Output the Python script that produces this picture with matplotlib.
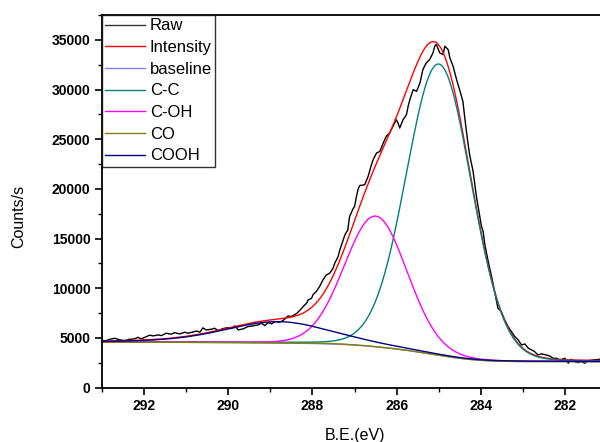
import numpy as np
import matplotlib
matplotlib.use("Agg")
import matplotlib.pyplot as plt
from matplotlib.ticker import MultipleLocator

plt.rcParams['font.family'] = ['Liberation Sans', 'DejaVu Sans']

# ---------------- data ----------------
raw_be = [293.01, 292.89, 292.81, 292.69, 292.57, 292.45, 292.34, 292.22, 292.14, 292.06,
          291.94, 291.86, 291.78, 291.66, 291.58, 291.47, 291.35, 291.27, 291.15, 291.03,
          290.95, 290.83, 290.75, 290.67, 290.60, 290.52, 290.40, 290.32, 290.24, 290.12,
          290.00, 289.92, 289.84, 289.76, 289.65, 289.53, 289.41, 289.29, 289.21, 289.13,
          289.05, 288.97, 288.89, 288.78, 288.70, 288.58, 288.50, 288.38, 288.30, 288.22,
          288.14, 288.10, 288.02, 287.99, 287.91, 287.83, 287.75, 287.67, 287.59, 287.51,
          287.47, 287.39, 287.35, 287.27, 287.23, 287.16, 287.12, 287.04, 287.00, 286.96,
          286.92, 286.88, 286.76, 286.68, 286.60, 286.56, 286.48, 286.40, 286.32, 286.25,
          286.17, 286.09, 286.01, 285.97, 285.93, 285.85, 285.77, 285.73, 285.69, 285.61,
          285.53, 285.45, 285.38, 285.30, 285.22, 285.14, 285.10, 285.06, 284.98, 284.90,
          284.86, 284.78, 284.74, 284.66, 284.58, 284.51, 284.43, 284.39, 284.35, 284.31,
          284.27, 284.19, 284.15, 284.11, 284.07, 284.03, 283.99, 283.95, 283.91, 283.87,
          283.83, 283.75, 283.67, 283.60, 283.52, 283.44, 283.36, 283.28, 283.20, 283.12,
          283.04, 282.96, 282.88, 282.80, 282.73, 282.65, 282.57, 282.45, 282.37, 282.29,
          282.21, 282.13, 282.01, 281.93, 281.86, 281.78, 281.70, 281.62, 281.54, 281.46,
          281.34, 281.18]
raw_counts = [4740, 4740, 4870, 4970, 4810, 4740, 4870, 4910, 5070, 4910,
              5140, 5280, 5210, 5310, 5240, 5480, 5380, 5540, 5410, 5580,
              5480, 5610, 5710, 5580, 6020, 5810, 5880, 5980, 5750, 5950,
              6050, 5950, 6220, 5810, 5910, 6150, 6220, 6320, 6490, 6250,
              6550, 6420, 6650, 6590, 6750, 7220, 7160, 7450, 7780, 8160,
              8500, 8840, 9000, 9340, 9680, 10180, 10850, 11350, 11520, 12030,
              12530, 13200, 13870, 14880, 15380, 15890, 17200, 17980, 18240, 19160,
              19920, 20340, 20420, 21260, 22440, 22940, 23610, 23780, 24620, 25290,
              25630, 26300, 26970, 26630, 26130, 26970, 27470, 28310, 28980, 29990,
              29820, 30660, 32010, 32680, 33010, 33690, 34360, 34530, 33690, 33520,
              34360, 34020, 33200, 32300, 31000, 30000, 28800, 27300, 25900, 24600,
              23400, 21800, 20500, 19250, 18240, 17230, 16220, 15720, 14400, 13540,
              12700, 11190, 9510, 8000, 7660, 6820, 6150, 5650, 5140, 4810,
              4300, 4400, 3970, 3800, 3630, 3290, 3400, 3290, 3190, 2960,
              2960, 2790, 2960, 2460, 2860, 2620, 2520, 2620, 2460, 2720,
              2790, 2860]

# fitted components (pseudo-Voigt): centre (eV), height, FWHM (eV), Lorentz fraction
comp_names = ['C-C', 'C-OH', 'CO', 'COOH']
comp_center = [285.0, 286.5, 287.6, 288.8]
comp_height = [29300, 13150, 40, 2150]
comp_fwhm = [1.82, 1.75, 1.6, 3.0]
comp_eta = [0.05, 0.05, 0.05, 0.3]
comp_colors = ['#008080', '#FF00FF', '#808000', '#000080']

# Shirley baseline end levels
base_low = 2620    # at low B.E. end
base_high = 4580   # at high B.E. end

x_ticks = [292, 290, 288, 286, 284, 282]
y_ticks = [0, 5000, 10000, 15000, 20000, 25000, 30000, 35000]

# ---------------- model curves ----------------
def pvoigt(x, c, h, f, eta):
    d = (x - c) / f
    return h * ((1 - eta) * np.exp(-4 * np.log(2) * d ** 2) + eta / (1 + 4 * d ** 2))

xf = np.linspace(281.0, 293.0, 1201)
peaks = [pvoigt(xf, c, h, f, e) for c, h, f, e in
         zip(comp_center, comp_height, comp_fwhm, comp_eta)]
total = np.sum(peaks, axis=0)
cum = np.concatenate([[0], np.cumsum((total[1:] + total[:-1]) / 2 * np.diff(xf))])
baseline = base_low + (base_high - base_low) * cum / cum[-1]
envelope = baseline + total

# ---------------- figure ----------------
fig = plt.figure(figsize=(6.0, 4.42), dpi=100)
ax = fig.add_axes([0.1695, 0.1229, 0.843, 0.8431])

ax.plot(raw_be, raw_counts, color='black', lw=1.0, label='Raw')
ax.plot(xf, envelope, color='#FF0000', lw=1.0, label='Intensity')
ax.plot(xf, baseline, color='#8080FF', lw=1.0, label='baseline')
for p, n, col in zip(peaks, comp_names, comp_colors):
    ax.plot(xf, baseline + p, color=col, lw=1.0, label=n)

ax.set_xlim(293, 281)
ax.set_ylim(0, 37500)
ax.set_xticks(x_ticks)
ax.set_yticks(y_ticks)
ax.xaxis.set_minor_locator(MultipleLocator(1))
ax.yaxis.set_minor_locator(MultipleLocator(2500))
ax.tick_params(which='major', direction='out', length=5, width=1.2,
               labelsize=10, pad=3)
ax.tick_params(which='minor', direction='out', length=3, width=1.0)
ax.tick_params(axis='both', which='both', top=False, right=False)
for lab in ax.get_xticklabels() + ax.get_yticklabels():
    lab.set_fontweight('bold')
for s in ax.spines.values():
    s.set_linewidth(1.3)

ax.set_xlabel('B.E.(eV)', fontsize=11.5, labelpad=11)
ax.set_ylabel('Counts/s', fontsize=11.5)
ax.yaxis.set_label_coords(-0.15, 0.46)

leg = ax.legend(loc='upper left', bbox_to_anchor=(0, 1), borderaxespad=0,
                frameon=True, fancybox=False, edgecolor='black', fontsize=12,
                handlelength=2.4, handletextpad=0.28, labelspacing=0.4,
                borderpad=0.2)
leg.get_frame().set_linewidth(1.0)
leg.get_lines()[0].set_color('#333333')

fig.savefig('out.png', dpi=100)
